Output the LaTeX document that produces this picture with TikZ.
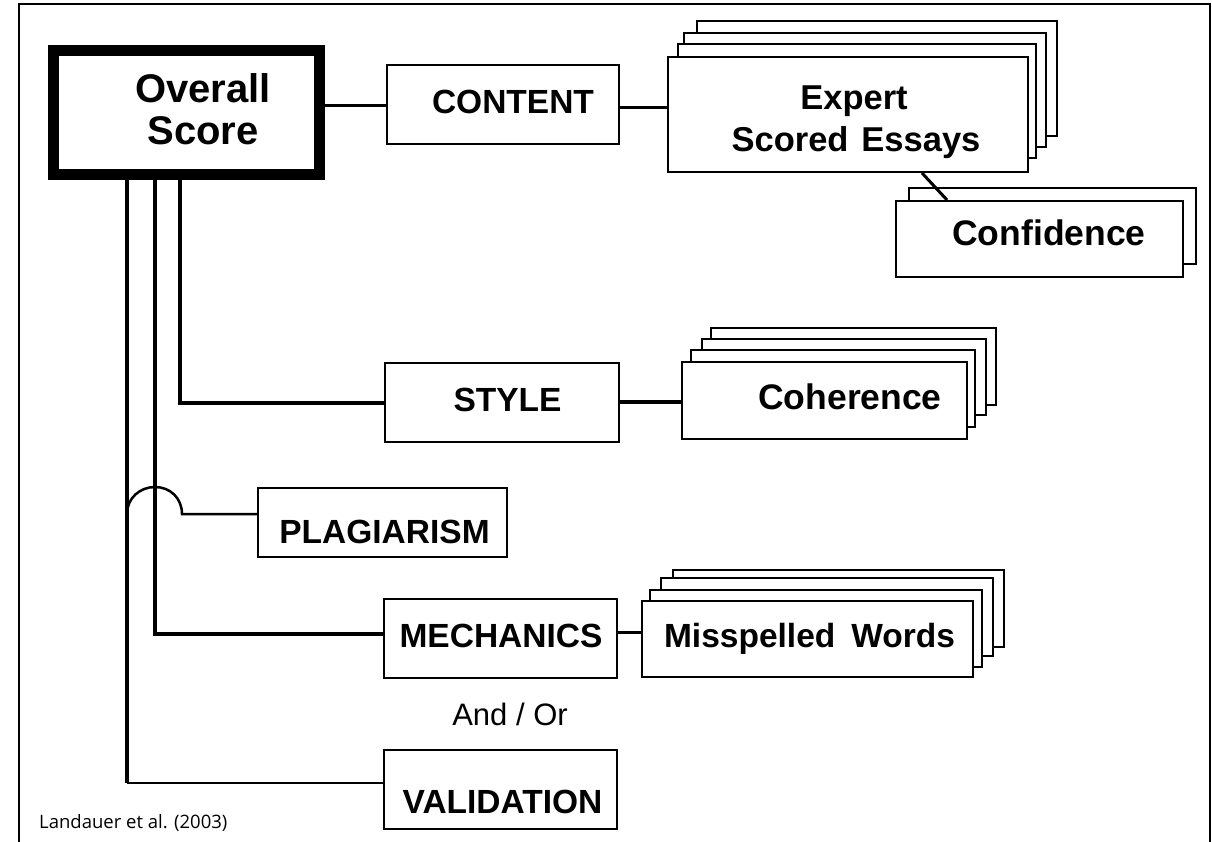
\documentclass[tikz,border=0pt]{standalone}
\usepackage{fontspec}
\setmainfont{Liberation Sans}
\newfontfamily\capfont{Open Sans}
\begin{document}
\begin{tikzpicture}[x=1pt,y=-1pt,
  box/.style={draw, line width=2pt, fill=white, inner sep=0pt},
  backbox/.style={draw, line width=2pt, fill=white},
  lbl/.style={anchor=base, inner sep=0pt, font=\bfseries\fontsize{33.5}{40}\selectfont},
  biglbl/.style={anchor=base, inner sep=0pt, font=\bfseries\fontsize{35.5}{42}\selectfont},
  conn/.style={line width=3pt},
  trunk/.style={line width=4pt},
  thinconn/.style={line width=2pt},
  frameline/.style={line width=2pt}]
\useasboundingbox (0,0) rectangle (1212,842);
\fill[white] (0,0) rectangle (1212,842);
\draw[frameline] (19,845) -- (19,4) -- (1210,4) -- (1210,845);

% Overall score
\node[box, line width=11pt, minimum width=266pt, minimum height=124pt] (overall) at (186.5,112.5) {};
\node[lbl, font=\bfseries\fontsize{40}{48}\selectfont] (overallA) at (203,103) {Overall};
\node[lbl, font=\bfseries\fontsize{40}{48}\selectfont] (overallB) at (203,145) {Score};

% Content
\node[box, minimum width=232pt, minimum height=79pt] (content) at (503,104.5) {};
\node[lbl] (contentT) at (513,114) {CONTENT};

% Expert scored essays stack
\draw[backbox] (697,21) rectangle (1057,136);
\draw[backbox] (684,33) rectangle (1046,147);
\draw[backbox] (678,44) rectangle (1036,158);
\node[box, minimum width=360pt, minimum height=115pt] (expert) at (848,114.5) {};
\node[lbl, font=\bfseries\fontsize{34.5}{41}\selectfont] (expertA) at (854,110) {Expert};
\node[lbl, font=\bfseries\fontsize{34.5}{41}\selectfont] (expertB) at (856,152) {Scored\hspace{13pt}Essays};

% Confidence stack
\draw[backbox] (909,188) rectangle (1196,264);
\node[box, minimum width=287pt, minimum height=76pt] (confidence) at (1039.5,239) {};
\node[biglbl] (confidenceT) at (1049,246) {Confidence};

% Style
\node[box, minimum width=234pt, minimum height=79pt] (style) at (502,402.5) {};
\node[lbl] (styleT) at (507.5,411) {STYLE};

% Coherence stack
\draw[backbox] (711,328) rectangle (996,405);
\draw[backbox] (702,339) rectangle (986,415);
\draw[backbox] (691,350) rectangle (975,427);
\node[box, minimum width=285pt, minimum height=77pt] (coherence) at (824.5,400.5) {};
\node[biglbl] (coherenceT) at (850,409) {Coherence};

% Plagiarism
\node[box, minimum width=249pt, minimum height=69pt] (plagiarism) at (382.5,522.5) {};
\node[lbl] (plagiarismT) at (384.5,543) {PLAGIARISM};

% Mechanics
\node[box, minimum width=233pt, minimum height=79pt] (mechanics) at (500.5,638.5) {};
\node[lbl] (mechanicsT) at (501,647) {MECHANICS};

% Misspelled words stack
\draw[backbox] (673,570) rectangle (1004,647);
\draw[backbox] (661,578) rectangle (993,656);
\draw[backbox] (650,590) rectangle (982,667);
\node[box, minimum width=331pt, minimum height=76pt] (misspelled) at (807.5,639) {};
\node[lbl] (misspelledT) at (809.5,647) {Misspelled\hspace{16pt}Words};

% And / Or
\node[anchor=base, inner sep=0pt, font=\fontsize{31}{37}\selectfont] (andor) at (510,725) {And / Or};

% Validation
\node[box, minimum width=233pt, minimum height=79pt] (validation) at (500.5,789.5) {};
\node[lbl] (validationT) at (502.5,813) {VALIDATION};

% Caption
\node[anchor=base west, inner sep=0pt, font=\capfont\fontsize{18.5}{22}\selectfont] (caption) at (39,828) {Landauer et al. (2003)};

% Connectors
\draw[conn] (content.west -| overall.east) ++(0,1.5) -- ([yshift=-1.5pt]content.west);
\draw[conn] ([yshift=-3.5pt]content.east) -- ([yshift=-3.5pt]content.east -| expert.west);
\draw[conn] ([xshift=255pt]expert.south west) -- ([xshift=52pt]confidence.north west);

\draw[trunk] ([xshift=-6.5pt]overall.south) |- (style.west);
\draw[conn, line width=4pt] ([yshift=0.5pt]style.east) -- ([yshift=0.5pt]style.east -| coherence.west);

\draw[trunk] ([xshift=-31.5pt]overall.south) |- ([yshift=4.5pt]mechanics.west);
\draw[conn] ([yshift=6.5pt]mechanics.east) -- ([yshift=6.5pt]mechanics.east -| misspelled.west);

\coordinate (vcorner) at (127,783);
\draw[trunk] ([xshift=-59.5pt]overall.south) -- (vcorner);
\draw[thinconn] (vcorner) -- (vcorner -| validation.west);

\coordinate (hopstart) at (127,514);
\coordinate (hopend) at (182,514);
\draw[thinconn, line width=2.5pt] (hopstart) .. controls (127,498) and (140,487) .. (155,487)
   .. controls (170,487) and (182,498) .. (hopend) -- (hopend -| plagiarism.west);
\end{tikzpicture}
\end{document}
